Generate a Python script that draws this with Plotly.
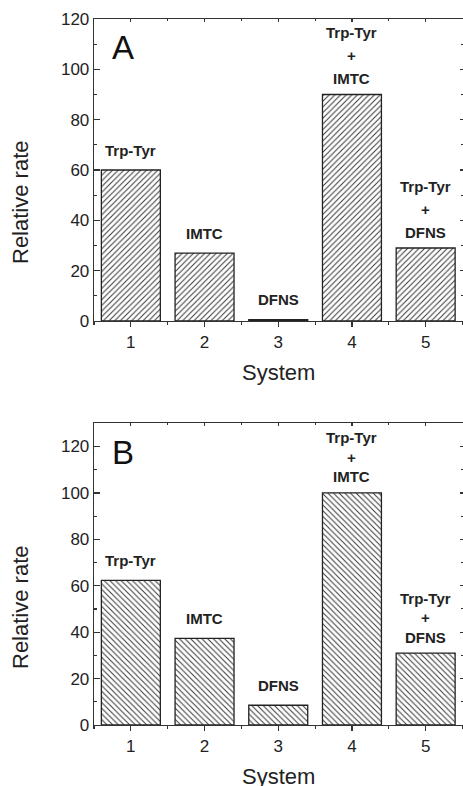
import plotly.graph_objects as go

# ---------------- data ----------------
systems = [1, 2, 3, 4, 5]
rate_A = [60, 27, 0.5, 90, 29]
rate_B = [62.3, 37.3, 8.5, 100, 31]
bar_labels = [
    ["Trp-Tyr"],
    ["IMTC"],
    ["DFNS"],
    ["Trp-Tyr", "+", "IMTC"],
    ["Trp-Tyr", "+", "DFNS"],
]
y_ticks = [0, 20, 40, 60, 80, 100, 120]
panel_names = ["A", "B"]
x_title = "System"
y_title = "Relative rate"

# ---------------- style ----------------
W, H = 463, 786
FONT = "Liberation Sans, Arial, sans-serif"
AX = "#333333"
TXT = "#222222"

x_dom = [94 / W, 462.5 / W]
dom_A = [1 - 321 / H, 1 - 19 / H]
dom_B = [1 - 725 / H, 1 - 423.3 / H]

fig = go.Figure()

panels = [
    dict(vals=rate_A, x="x", y="y", xm="x3", ym="y3", rng=[0, 120], dom=dom_A,
         shape="/", spacing=23),
    dict(vals=rate_B, x="x2", y="y2", xm="x4", ym="y4", rng=[0, 130], dom=dom_B,
         shape="\\", spacing=19.5),
]

for p in panels:
    fig.add_trace(go.Bar(
        x=systems, y=p["vals"], xaxis=p["x"], yaxis=p["y"], width=0.8,
        marker=dict(color="white",
                    line=dict(color="#222222", width=1.3),
                    pattern=dict(shape=p["shape"], fgcolor="#3a3a3a",
                                 bgcolor="white", size=4, solidity=0.26)),
        showlegend=False, hoverinfo="skip"))
    # invisible trace for mirrored (top/right) axes
    fig.add_trace(go.Scatter(x=[systems[0]], y=[0], xaxis=p["xm"], yaxis=p["ym"],
                             mode="markers", marker=dict(opacity=0),
                             showlegend=False, hoverinfo="skip"))
    # labels above bars
    for xv, yv, lines in zip(systems, p["vals"], bar_labels):
        n = len(lines)
        gap = 20 if n == 1 else 16
        for k, t in enumerate(lines):
            fig.add_annotation(
                x=xv, y=yv, xref=p["x"], yref=p["y"], text="<b>%s</b>" % t,
                showarrow=False, yanchor="middle", xanchor="center",
                yshift=gap + (n - 1 - k) * p["spacing"],
                font=dict(family=FONT, size=15, color=TXT))

def xaxis_main(anchor):
    return dict(domain=x_dom, anchor=anchor, range=[0.5, 5.5], automargin=False,
                tickmode="array", tickvals=systems, ticktext=[str(s) for s in systems],
                ticks="outside", ticklen=5, tickwidth=1.2, tickcolor=AX,
                minor=dict(ticks="outside", ticklen=3, tickwidth=1.2, tickcolor=AX,
                           tickmode="linear", tick0=0.5, dtick=1),
                showline=True, linecolor=AX, linewidth=1.3, showgrid=False,
                zeroline=False, tickfont=dict(family=FONT, size=17, color=TXT),
                fixedrange=True)

def yaxis_main(anchor, dom, rng):
    return dict(domain=dom, anchor=anchor, range=rng, automargin=False,
                tickmode="array", tickvals=y_ticks, ticktext=[str(v) for v in y_ticks],
                ticks="inside", ticklen=6, tickwidth=1.2, tickcolor=AX,
                minor=dict(ticks="inside", ticklen=3, tickwidth=1.2, tickcolor=AX,
                           tickmode="linear", tick0=10, dtick=20),
                showline=True, linecolor=AX, linewidth=1.3, showgrid=False,
                zeroline=False, tickfont=dict(family=FONT, size=17, color=TXT),
                fixedrange=True)

def xaxis_mirror(over, anchor):
    return dict(overlaying=over, anchor=anchor, side="top", range=[0.5, 5.5],
                automargin=False,
                tickmode="array", tickvals=systems, showticklabels=False,
                ticks="inside", ticklen=3, tickwidth=1.2, tickcolor=AX,
                minor=dict(ticks="inside", ticklen=2, tickwidth=1, tickcolor=AX,
                           tickmode="linear", tick0=0.5, dtick=1),
                showline=True, linecolor=AX, linewidth=1.3, showgrid=False,
                zeroline=False, fixedrange=True)

def yaxis_mirror(over, anchor, rng):
    return dict(overlaying=over, anchor=anchor, side="right", range=rng,
                automargin=False,
                tickmode="array", tickvals=y_ticks, showticklabels=False,
                ticks="inside", ticklen=3, tickwidth=1.2, tickcolor=AX,
                minor=dict(ticks="inside", ticklen=2, tickwidth=1, tickcolor=AX,
                           tickmode="linear", tick0=10, dtick=20),
                showline=True, linecolor=AX, linewidth=1.3, showgrid=False,
                zeroline=False, fixedrange=True)

fig.update_layout(
    template="none",
    width=W, height=H, autosize=False,
    margin=dict(l=0, r=0, t=0, b=0, pad=0, autoexpand=False),
    paper_bgcolor="white", plot_bgcolor="white",
    bargap=0.2,
    xaxis=xaxis_main("y"),
    yaxis=yaxis_main("x", dom_A, [0, 120]),
    xaxis2=xaxis_main("y2"),
    yaxis2=yaxis_main("x2", dom_B, [0, 130]),
    xaxis3=xaxis_mirror("x", "y"),
    yaxis3=yaxis_mirror("y", "x", [0, 120]),
    xaxis4=xaxis_mirror("x2", "y2"),
    yaxis4=yaxis_mirror("y2", "x2", [0, 130]),
)

# axis titles and panel letters
for name, sys_y, rel_y, letter_y in [
    (panel_names[0], 1 - 372 / H, 1 - 202 / H, 1 - 47 / H),
    (panel_names[1], 1 - 776 / H, 1 - 607 / H, 1 - 452 / H),
]:
    fig.add_annotation(x=(x_dom[0] + x_dom[1]) / 2, y=sys_y, xref="paper", yref="paper",
                       text=x_title, showarrow=False, xanchor="center", yanchor="middle",
                       font=dict(family=FONT, size=22, color=TXT))
    fig.add_annotation(x=20 / W, y=rel_y, xref="paper", yref="paper",
                       text=y_title, showarrow=False, textangle=-90,
                       xanchor="center", yanchor="middle",
                       font=dict(family=FONT, size=22, color=TXT))
    fig.add_annotation(x=123 / W, y=letter_y, xref="paper", yref="paper",
                       text=name, showarrow=False, xanchor="center", yanchor="middle",
                       font=dict(family=FONT, size=33, color="#111111"))

fig.write_html(
    "out.html",
    config={"displayModeBar": False, "staticPlot": True},
    post_script="document.body.style.margin='0';document.body.style.overflow='hidden';",
)
